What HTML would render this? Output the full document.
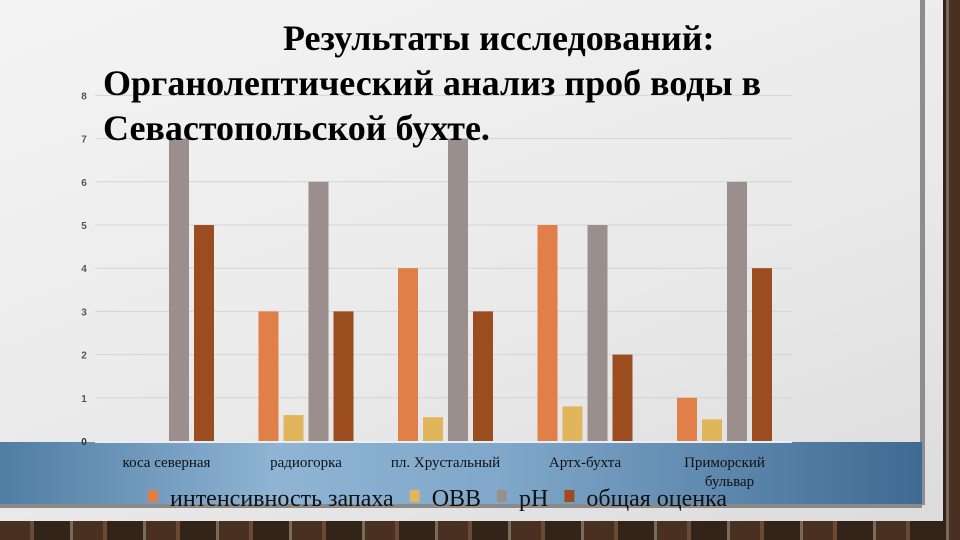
<!DOCTYPE html>
<html><head><meta charset="utf-8"><style>
html,body{margin:0;padding:0;width:960px;height:540px;overflow:hidden;background:#4a3426;}
#wall{position:absolute;left:0;top:0;width:960px;height:540px;background:repeating-linear-gradient(90deg,#4a3020 0 30px,#6b4a33 30px 34px,#33241a 34px 70px,#7a6a58 70px 73px);}
#paper{position:absolute;left:0;top:0;width:943px;height:521px;background:linear-gradient(160deg,#f4f4f4,#e9e9e9 60%,#dcdcdc);}
#edge{position:absolute;left:920px;top:0;width:5px;height:505px;background:#8d8d8d;}
#band{position:absolute;left:0;top:442px;width:922px;height:62px;background:linear-gradient(90deg,#4f7da3,#8fb4d4 30%,#7fa7c9 55%,#3e6a93);border-bottom:4px solid #8a8a8a;}
svg{position:absolute;left:0;top:0;}
.t{font-family:"Liberation Serif",serif;font-weight:bold;font-size:36px;fill:#000;}
</style></head><body>
<div id="wall"></div>
<div id="paper"></div>
<div id="edge"></div>
<div id="band"></div>
<svg id="chart" width="960" height="540"></svg>
<script>
const categories=["коса северная","радиогорка","пл. Хрустальный","Артх-бухта","Приморский бульвар"];
const seriesNames=["интенсивность запаха","ОВВ","pH","общая оценка"];
const smell=[0,3,4,5,1];
const ovv=[0,0.6,0.55,0.8,0.5];
const ph=[7,6,7,5,6];
const total=[5,3,3,2,4];
const yTicks=[0,1,2,3,4,5,6,7,8];
const colors=["#e07f47","#e0b55c","#9a8f8c","#9c4d1f"];
const series=[smell,ovv,ph,total];
const NS="http://www.w3.org/2000/svg";
const svg=document.getElementById('chart');
const y0=441,unit=43.2,x0=95,groupW=139.5,barW=20,gap=25;
const y=v=>y0-v*unit;
const gx=i=>x0+24+i*groupW;
function mk(t,a){const e=document.createElementNS(NS,t);for(const k in a)e.setAttribute(k,a[k]);svg.appendChild(e);return e;}
yTicks.forEach(v=>{
 if(v>0){const l=mk('line',{x1:x0,x2:792,y1:y(v),y2:y(v),stroke:'#d4d4d4','stroke-width':1});
 
 }
 const t=mk('text',{x:84,y:y(v)+4,'font-family':'Liberation Sans, sans-serif','font-size':10,'font-weight':'bold',fill:v==0?'#333':'#555','text-anchor':'middle'});
 t.textContent=v;
 
 
});
const ax=mk('line',{x1:x0,x2:792,y1:y0+1,y2:y0+1,stroke:'#e8eef4','stroke-width':2});


series.forEach((s,si)=>{s.forEach((v,i)=>{if(v<=0)return;
 const r=mk('rect',{x:gx(i)+si*gap,y:y(v),width:barW,height:v*unit,fill:colors[si]});
 
 });});
categories.forEach((c,i)=>{
 const cx=gx(i)+gap*1.5+barW/2;
 const parts=c==="Приморский бульвар"?["Приморский","бульвар"]:[c];
 parts.forEach((p,k)=>{const t=mk('text',{x:cx+(k?5:0),y:467+k*19,'font-family':'Liberation Serif, serif','font-size':15,fill:'#111','text-anchor':'middle'});
 t.textContent=p;
 
 });
});
let lx=148;
seriesNames.forEach((n,i)=>{
 const r=mk('rect',{x:lx,y:490,width:10,height:12,fill:colors[i]});
 
 
 const t=mk('text',{x:lx+22,y:506,'font-family':'Liberation Serif, serif','font-size':24,fill:'#111'});
 t.textContent=n;
 
 
 lx+=22+t.getComputedTextLength()+16;
});
[["Результаты исследований:",283,50],["Органолептический анализ проб воды в",103,95],["Севастопольской бухте.",103,140]].forEach((a,i)=>{
 const t=mk('text',{x:a[1],y:a[2],class:'t'});t.textContent=a[0];
 
 
});
</script>
</body></html>
